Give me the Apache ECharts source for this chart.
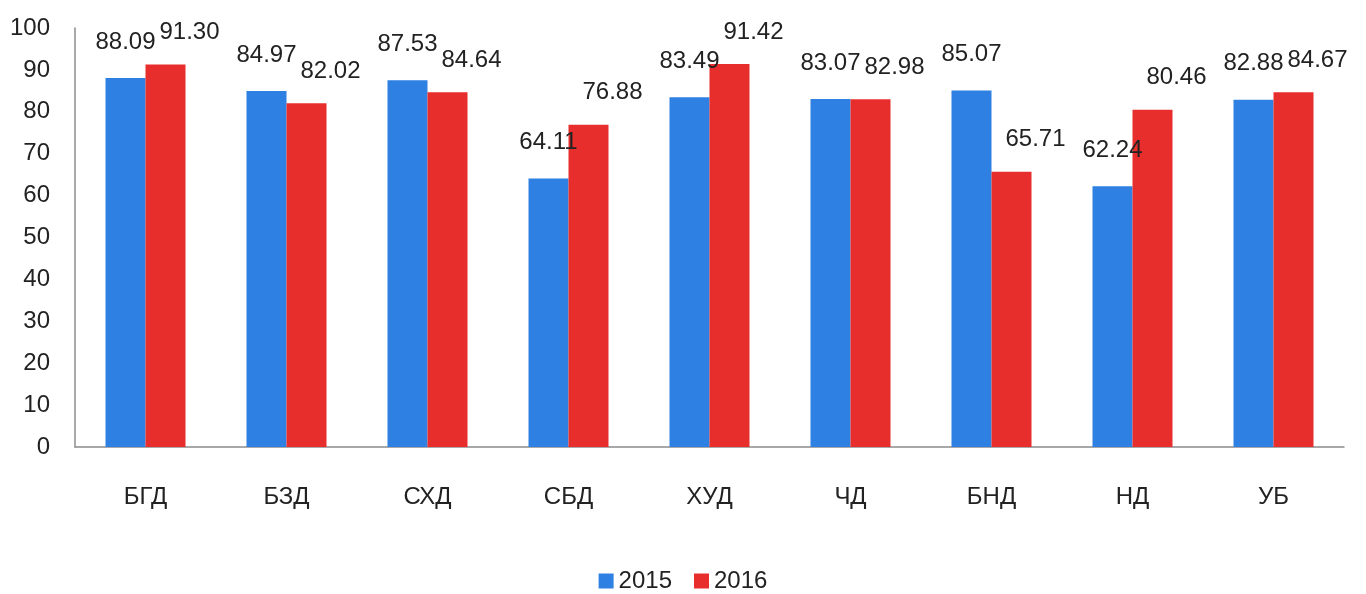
<!DOCTYPE html>
<html>
<head>
<meta charset="utf-8">
<script src="https://cdn.jsdelivr.net/npm/echarts@6/dist/echarts.min.js"></script>
<style>
  html, body { margin: 0; padding: 0; background: #fff; }
  #chart { width: 1366px; height: 594px; }
</style>
</head>
<body>
<div id="chart"></div>
<script>
// districts
const categories = ['БГД', 'БЗД', 'СХД', 'СБД', 'ХУД', 'ЧД', 'БНД', 'НД', 'УБ'];
const values2015 = [88.09, 84.97, 87.53, 64.11, 83.49, 83.07, 85.07, 62.24, 82.88];
const values2016 = [91.30, 82.02, 84.64, 76.88, 91.42, 82.98, 65.71, 80.46, 84.67];
const seriesNames = ['2015', '2016'];

const FONT = '"Liberation Sans", Arial, sans-serif';
const SIZE = 24;

const chart = echarts.init(document.getElementById('chart'));
chart.setOption({
    animation: false,
    textStyle: { fontFamily: FONT },
    legend: {
        data: seriesNames,
        bottom: -4,
        left: 'center',
        itemWidth: 15,
        itemHeight: 15,
        itemGap: 22,
        icon: 'rect',
        textStyle: { fontFamily: FONT, fontSize: SIZE, color: '#222' }
    },
    grid: {
        left: 75,
        right: 22,
        top: 28,
        bottom: 147
    },
    xAxis: {
        type: 'category',
        data: categories,
        axisLine: { lineStyle: { color: '#8c8c8c', width: 1.5 } },
        axisTick: { show: false },
        axisLabel: { fontFamily: FONT, fontSize: SIZE, color: '#222', margin: 38 }
    },
    yAxis: {
        type: 'value',
        min: 0,
        max: 100,
        interval: 10,
        axisLine: { show: true, lineStyle: { color: '#8c8c8c', width: 1.5 } },
        axisTick: { show: false },
        splitLine: { show: false },
        axisLabel: { fontFamily: FONT, fontSize: SIZE, color: '#222', margin: 25 }
    },
    series: [
        {
            name: seriesNames[0],
            type: 'bar',
            data: values2015,
            barWidth: 40,
            barGap: 0,
            itemStyle: { color: '#2E80E2' },
            label: {
                show: true,
                position: 'top',
                distance: 24,
                formatter: p => p.value.toFixed(2),
                fontFamily: FONT,
                fontSize: SIZE,
                color: '#222'
            }
        },
        {
            name: seriesNames[1],
            type: 'bar',
            data: values2016,
            barWidth: 40,
            barGap: 0,
            itemStyle: { color: '#E82E2C' },
            label: {
                show: true,
                position: 'top',
                distance: 20,
                offset: [24, 0],
                formatter: p => p.value.toFixed(2),
                fontFamily: FONT,
                fontSize: SIZE,
                color: '#222'
            }
        }
    ]
});
</script>
</body>
</html>
